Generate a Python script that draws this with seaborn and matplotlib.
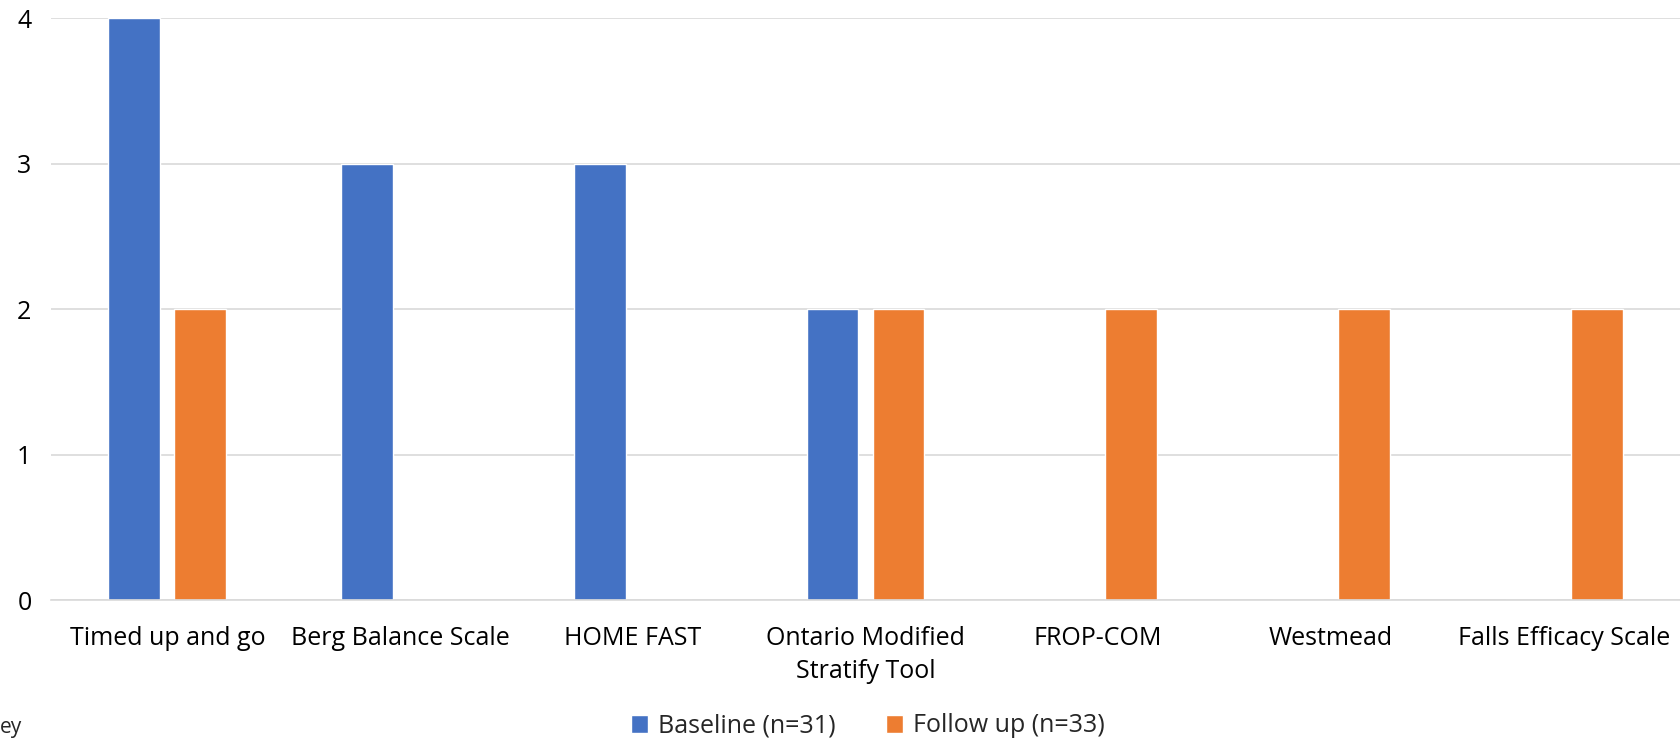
import matplotlib
matplotlib.use("Agg")
import matplotlib.pyplot as plt
import seaborn as sns
import pandas as pd

categories = ["Timed up and go", "Berg Balance Scale", "HOME FAST",
              "Ontario Modified\nStratify Tool", "FROP-COM", "Westmead",
              "Falls Efficacy Scale"]
baseline = [4, 3, 3, 2, 0, 0, 0]
follow_up = [2, 0, 0, 2, 2, 2, 2]
series_names = ["Baseline (n=31)", "Follow up (n=33)"]
y_ticks = [0, 1, 2, 3, 4]

sns.set_style("white")
plt.rcParams['font.family'] = ['Open Sans', 'DejaVu Sans']

df = pd.DataFrame({
    "category": categories * 2,
    "value": baseline + follow_up,
    "series": [series_names[0]] * len(categories) + [series_names[1]] * len(categories),
})

fig = plt.figure(figsize=(16.8, 7.4), dpi=100)
ax = fig.add_axes([51 / 1680, 1 - 600 / 740, 1 - 51 / 1680, (600 - 18) / 740])

sns.barplot(data=df, x="category", y="value", hue="series", order=categories,
            hue_order=series_names, palette=["#4472C4", "#ED7D31"],
            width=0.5665, gap=0.213, ax=ax, legend=False, saturation=1)

ax.set_xlim(-0.5, len(categories) - 0.5)
ax.set_ylim(0, 4)
ax.set_yticks(y_ticks)
ax.set_yticklabels([str(t) for t in y_ticks])
ax.yaxis.grid(True, color="#D9D9D9", linewidth=1.2)
ax.set_axisbelow(True)
for s in ["top", "right", "left"]:
    ax.spines[s].set_visible(False)
ax.spines["bottom"].set_color("#D9D9D9")
ax.spines["bottom"].set_linewidth(1.2)
ax.tick_params(axis="both", length=0, labelsize=18, colors="black")
ax.tick_params(axis="y", pad=14)
ax.tick_params(axis="x", pad=19)
for lbl in ax.get_xticklabels():
    lbl.set_linespacing(1.4)
ax.set_xlabel("")
ax.set_ylabel("")

from matplotlib.patches import Patch
handles = [Patch(facecolor="#4472C4"), Patch(facecolor="#ED7D31")]
fig.legend(handles, series_names, loc="center", bbox_to_anchor=(868 / 1680, 1 - 726 / 740),
           ncol=2, frameon=False, fontsize=18, handlelength=0.7, handleheight=0.7,
           columnspacing=2.0, handletextpad=0.4)

fig.text(0, 1 - 728 / 740, "ey", fontsize=15, va="center", ha="left")

fig.savefig("out.png", dpi=100)
